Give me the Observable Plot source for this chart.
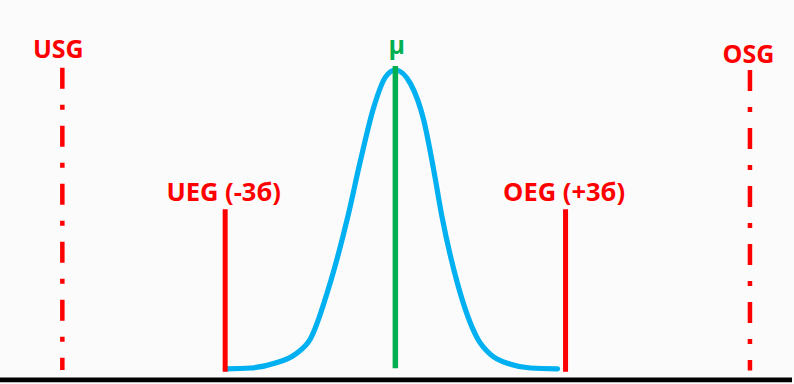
<!DOCTYPE html>
<html>
<head>
<meta charset="utf-8">
<script src="https://cdn.jsdelivr.net/npm/d3@7"></script>
<script src="https://cdn.jsdelivr.net/npm/@observablehq/plot@0.6"></script>
<style>
  html, body { margin: 0; padding: 0; background: #fbfbfb; overflow: hidden; }
</style>
</head>
<body>
<div id="chart"></div>
<script>
// Bell curve (x in sigma units from the mean, y relative density, axis at 0)
const curveX = [-2.995, -2.554, -2.114, -1.761, -1.497, -1.145, -0.836, -0.615, -0.381, -0.175, 0,
                0.266, 0.501, 0.677, 0.821, 1.089, 1.452, 1.676, 2.029, 2.381, 2.857];
const curveY = [0.0355, 0.0380, 0.0540, 0.0830, 0.1323, 0.315, 0.528, 0.708, 0.880, 0.977, 1.0,
                0.956, 0.837, 0.676, 0.527, 0.315, 0.132, 0.082, 0.0500, 0.0380, 0.0355];

// Limit lines
const limitNames  = ["USG", "UEG (-3б)", "μ", "OEG (+3б)", "OSG"];
const limitKinds  = ["spec", "control", "mean", "control", "spec"];
const limitX      = [-5.87, -3, 0, 3, 6.25];
const limitTop    = [1.006, 0.549, 1.011, 0.549, 0.998];
const limitBottom = [0.030, 0.0245, 0.0355, 0.0245, 0.028];

const xDomain = [-6.96, 7];
const yDomain = [-0.0152, 1.2243];

const curve = curveX.map((x, i) => ({x, y: curveY[i]}));
const limits = limitNames.map((name, i) => ({name, kind: limitKinds[i], x: limitX[i], top: limitTop[i], bottom: limitBottom[i]}));

const RED = "#FF0000", BLUE = "#00B0F0", GREEN = "#00B050";

const labelStyle = {
  USG:          {dx: -4,   dy: -10,   fontSize: 25,   fill: RED},
  "UEG (-3б)":  {dx: -1.5, dy: -8.6,  fontSize: 25.5, fill: RED},
  "μ":          {dx: 1.5,  dy: -12.7, fontSize: 25,   fill: GREEN},
  "OEG (+3б)":  {dx: -1.5, dy: -8.6,  fontSize: 25.5, fill: RED},
  OSG:          {dx: -1.5, dy: -7.7,  fontSize: 25,   fill: RED}
};

const textMarks = limits.map(d => Plot.text([d], {
  x: "x", y: "top", text: "name",
  lineAnchor: "bottom", textAnchor: "middle",
  fontFamily: "'Open Sans', sans-serif", fontWeight: "bold",
  ...labelStyle[d.name]
}));

const chart = Plot.plot({
  width: 794,
  height: 384,
  marginLeft: 0,
  marginRight: 2,
  marginTop: 0,
  marginBottom: 0,
  style: {background: "#fbfbfb"},
  x: {domain: xDomain, axis: null},
  y: {domain: yDomain, axis: null},
  marks: [
    Plot.ruleY([0], {stroke: "black", strokeWidth: 4.7}),
    Plot.line(curve, {x: "x", y: "y", stroke: BLUE, strokeWidth: 5.2, curve: "monotone-x"}),
    Plot.ruleX(limits.filter(d => d.kind === "mean"), {x: "x", y1: "top", y2: "bottom", stroke: GREEN, strokeWidth: 5.5}),
    Plot.ruleX(limits.filter(d => d.kind === "control"), {x: "x", y1: "top", y2: "bottom", stroke: RED, strokeWidth: 5}),
    Plot.ruleX(limits.filter(d => d.kind === "spec"), {x: "x", y1: "top", y2: "bottom", stroke: RED, strokeWidth: 4.5, strokeDasharray: "21,16,5,16"}),
    ...textMarks
  ]
});
document.getElementById("chart").appendChild(chart);
</script>
</body>
</html>
